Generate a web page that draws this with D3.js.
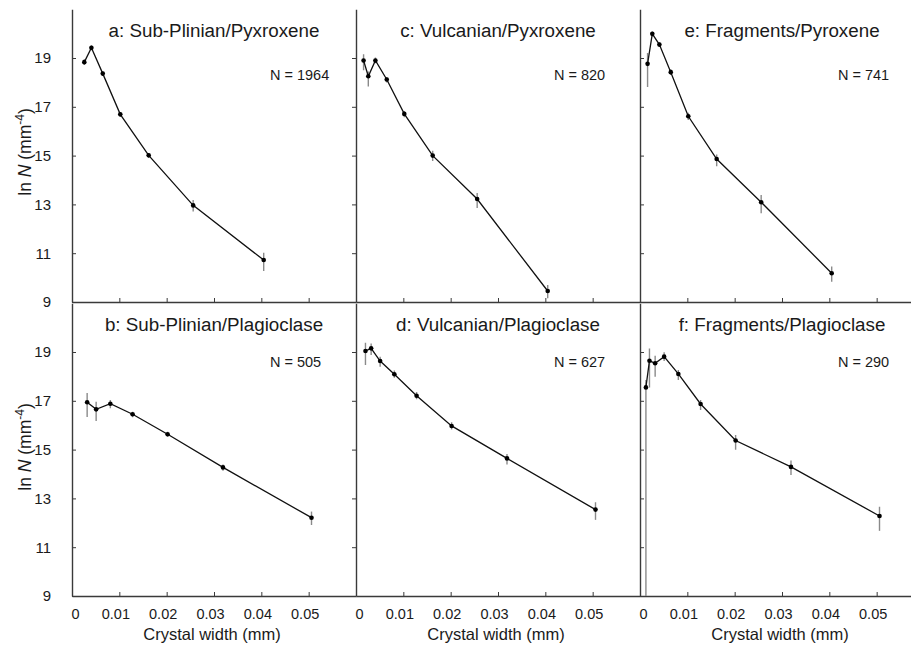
<!DOCTYPE html>
<html><head><meta charset="utf-8">
<script src="https://cdn.jsdelivr.net/npm/d3@7"></script>
<style>
body{margin:0;background:#fff}
text{font-family:"Liberation Sans",Arial,Helvetica,sans-serif;fill:#1a1a1a}
</style>
</head><body>
<svg id="chart" width="911" height="647"></svg>
<script>
// ---- data ----
const pyxWidths  = [0.0016, 0.0026, 0.0041, 0.0065, 0.0102, 0.0162, 0.0256, 0.0405];
const plagWidths = [0.00125, 0.002, 0.0032, 0.0051, 0.0081, 0.0128, 0.0202, 0.0319, 0.0506];

const yTicks = [9, 11, 13, 15, 17, 19];
const xTicks = [0, 0.01, 0.02, 0.03, 0.04, 0.05];

const titleA = "a: Sub-Plinian/Pyxroxene", titleB = "b: Sub-Plinian/Plagioclase";
const titleC = "c: Vulcanian/Pyxroxene",   titleD = "d: Vulcanian/Plagioclase";
const titleE = "e: Fragments/Pyroxene",    titleF = "f: Fragments/Plagioclase";
const counts = [1964, 505, 820, 627, 741, 290];

const lnA   = [18.83, 19.42, 18.36, 16.69, 15.01, 12.96, 10.72];
const upA   = [0.12, 0.10, 0.10, 0.10, 0.10, 0.22, 0.30];
const dnA   = [0.12, 0.10, 0.10, 0.10, 0.10, 0.25, 0.45];

const lnB   = [16.94, 16.65, 16.88, 16.45, 15.63, 14.27, 12.21];
const upB   = [0.38, 0.31, 0.15, 0.10, 0.10, 0.12, 0.25];
const dnB   = [0.60, 0.48, 0.19, 0.12, 0.10, 0.14, 0.30];

const lnC   = [18.90, 18.25, 18.90, 18.12, 16.71, 15.00, 13.22, 9.45];
const upC   = [0.25, 0.20, 0.12, 0.10, 0.12, 0.20, 0.25, 0.25];
const dnC   = [0.40, 0.42, 0.12, 0.12, 0.14, 0.22, 0.37, 0.30];

const lnD   = [19.04, 19.15, 18.63, 18.09, 17.21, 15.97, 14.64, 12.54];
const upD   = [0.34, 0.20, 0.18, 0.15, 0.15, 0.15, 0.18, 0.30];
const dnD   = [0.57, 0.27, 0.23, 0.15, 0.15, 0.15, 0.25, 0.42];

const lnE   = [18.76, 19.99, 19.55, 18.42, 16.61, 14.86, 13.09, 10.18];
const upE   = [0.45, 0.10, 0.10, 0.12, 0.15, 0.18, 0.30, 0.27];
const dnE   = [0.95, 0.10, 0.10, 0.12, 0.15, 0.30, 0.45, 0.35];

const lnF   = [17.55, 18.64, 18.54, 18.81, 18.10, 16.87, 15.37, 14.29, 12.28];
const upF   = [0.30, 0.50, 0.31, 0.18, 0.16, 0.16, 0.23, 0.26, 0.38];
const dnF   = [20.0, 1.10, 0.55, 0.18, 0.25, 0.25, 0.38, 0.33, 0.61];

// ---- layout ----
const colLeft = [72, 356, 640];
const panelW = 284;
const rows = [{bottom: 302, top: 9.2, titleY: 37, nY: 80},
              {bottom: 596, top: 303.2, titleY: 331, nY: 367}];

const panels = [
  {col:0,row:0,title:titleA,n:counts[0],xs:pyxWidths.slice(1),ys:lnA,up:upA,dn:dnA},
  {col:0,row:1,title:titleB,n:counts[1],xs:plagWidths.slice(2),ys:lnB,up:upB,dn:dnB},
  {col:1,row:0,title:titleC,n:counts[2],xs:pyxWidths,ys:lnC,up:upC,dn:dnC},
  {col:1,row:1,title:titleD,n:counts[3],xs:plagWidths.slice(1),ys:lnD,up:upD,dn:dnD},
  {col:2,row:0,title:titleE,n:counts[4],xs:pyxWidths,ys:lnE,up:upE,dn:dnE},
  {col:2,row:1,title:titleF,n:counts[5],xs:plagWidths,ys:lnF,up:upF,dn:dnF}
];

const svg = d3.select("#chart");
const axisColor = "#3a3a3a";

function styleAxis(g){
  g.selectAll("path.domain").attr("stroke", axisColor).attr("stroke-width", 1.4);
  g.selectAll(".tick line").attr("stroke", axisColor).attr("stroke-width", 1);
}

const defs = svg.append("defs");

panels.forEach((p, i) => {
  const left = colLeft[p.col], r = rows[p.row];
  const x = d3.scaleLinear().domain([0, 0.06]).range([left, left + panelW]);
  const y = d3.scaleLinear().domain([9, 21]).range([r.bottom, r.top]);

  defs.append("clipPath").attr("id", "clip" + i)
    .append("rect").attr("x", left).attr("y", r.top)
    .attr("width", panelW).attr("height", r.bottom - r.top);

  // left (vertical) axis
  let ya;
  if (p.col === 0) {
    ya = d3.axisLeft(y).tickValues(yTicks).tickSize(-4).tickSizeOuter(0).tickPadding(21);
  } else if (p.col === 1) {
    ya = d3.axisLeft(y).tickValues(yTicks).tickSize(4).tickSizeOuter(0).tickFormat("");
  } else {
    ya = d3.axisLeft(y).tickValues(yTicks).tickSize(-4).tickSizeOuter(0).tickFormat("");
  }
  const gy = svg.append("g").attr("transform", `translate(${left},0)`).call(ya);
  styleAxis(gy);
  gy.selectAll(".tick text").attr("font-size", 15).attr("fill", "#1a1a1a")
    .attr("font-family", '"Liberation Sans",Arial,sans-serif');

  // bottom axis
  const xa = d3.axisBottom(x).tickValues(xTicks).tickSize(-4).tickSizeOuter(0).tickPadding(13);
  if (p.row === 0) xa.tickFormat("");
  else xa.tickFormat(d => d === 0 ? "0" : d3.format(".2f")(d));
  const gx = svg.append("g").attr("transform", `translate(0,${r.bottom})`).call(xa);
  styleAxis(gx);
  gx.selectAll(".tick text").attr("font-size", 14.5).attr("fill", "#1a1a1a")
    .attr("font-family", '"Liberation Sans",Arial,sans-serif')
    .attr("dx", d => d === 0 ? 3 : -4);

  const plot = svg.append("g").attr("clip-path", `url(#clip${i})`);

  // error bars
  plot.selectAll("line.err").data(p.ys).join("line").attr("class", "err")
    .attr("x1", (d, j) => x(p.xs[j])).attr("x2", (d, j) => x(p.xs[j]))
    .attr("y1", (d, j) => y(d + p.up[j])).attr("y2", (d, j) => y(d - p.dn[j]))
    .attr("stroke", "#8a8a8a").attr("stroke-width", 1.4);

  // line
  const line = d3.line().x((d, j) => x(p.xs[j])).y(d => y(d));
  plot.append("path").datum(p.ys).attr("d", line)
    .attr("fill", "none").attr("stroke", "#111").attr("stroke-width", 1.3);

  // points
  plot.selectAll("circle").data(p.ys).join("circle")
    .attr("cx", (d, j) => x(p.xs[j])).attr("cy", d => y(d)).attr("r", 2.3)
    .attr("fill", "#000");

  // title
  svg.append("text").attr("x", left + panelW / 2).attr("y", r.titleY)
    .attr("text-anchor", "middle").attr("font-size", 18.8).text(p.title);

  // N label
  svg.append("text").attr("x", left + 198).attr("y", r.nY)
    .attr("font-size", 14.5).text("N = " + p.n);

  // x axis title
  if (p.row === 1) {
    svg.append("text").attr("x", left + panelW / 2 - 2).attr("y", 640)
      .attr("text-anchor", "middle").attr("font-size", 16.5).text("Crystal width (mm)");
  }
  // y axis title
  if (p.col === 0) {
    const t = svg.append("text")
      .attr("transform", `translate(31,${p.row === 0 ? 152 : 447}) rotate(-90)`)
      .attr("text-anchor", "middle").attr("font-size", 17.5);
    t.append("tspan").text("ln ");
    t.append("tspan").attr("font-style", "italic").text("N");
    t.append("tspan").text(" (mm");
    t.append("tspan").attr("font-size", 12).attr("dy", -7).text("-4");
    t.append("tspan").attr("dy", 7).text(")");
  }
});
</script>
</body></html>
